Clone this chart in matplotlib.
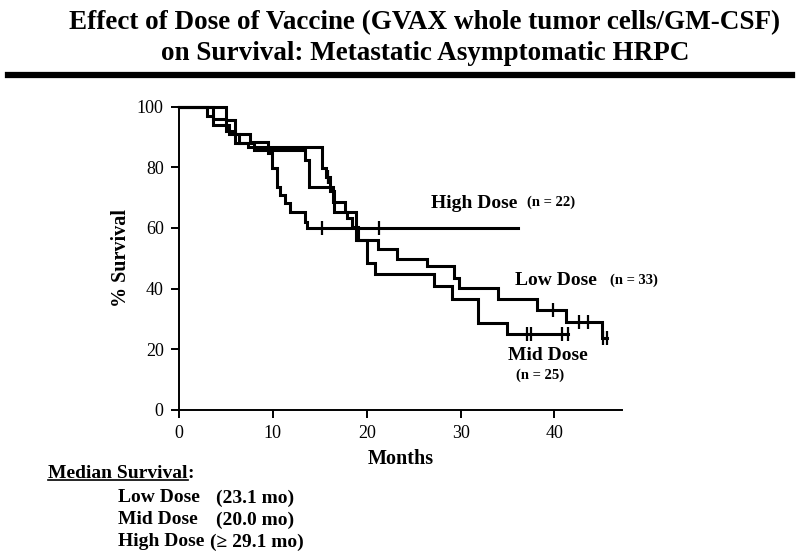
import matplotlib
matplotlib.use("Agg")
import matplotlib.pyplot as plt
from matplotlib.lines import Line2D

# Kaplan-Meier steps: month of each drop, % surviving after it
low_t = [0, 3.0, 3.6, 5.3, 6.4, 8.0, 13.4, 13.8, 16.4, 17.7, 18.9, 21.2, 23.2, 26.4, 29.3, 29.8, 34.0, 38.1, 41.2, 45.1]
low_s = [100, 97.0, 93.9, 90.9, 87.9, 85.7, 82.4, 73.6, 68.6, 65.3, 56.0, 53.0, 49.8, 47.3, 43.6, 40.2, 36.6, 33.0, 28.9, 23.6]
low_end = 45.6
low_cens_t = [39.8, 42.6, 43.6, 45.15, 45.6]
low_cens_s = [33.0, 28.9, 28.9, 23.6, 23.6]

mid_t = [0, 3.6, 5.0, 6.0, 7.3, 15.2, 15.7, 16.1, 16.5, 17.9, 18.4, 19.1, 20.0, 20.9, 27.2, 29.1, 31.9, 34.9]
mid_s = [100, 96.0, 92.0, 88.0, 86.8, 79.6, 76.9, 72.0, 65.3, 63.2, 60.4, 56.0, 48.3, 44.8, 41.0, 36.6, 28.6, 25.0]
mid_end = 41.4
mid_cens_t = [15.9, 37.1, 37.5, 40.8, 41.4]
mid_cens_s = [76.9, 25.0, 25.0, 25.0, 25.0]

high_t = [0, 5.0, 6.0, 7.6, 9.5, 9.9, 10.4, 10.8, 11.3, 11.8, 13.4, 13.6]
high_s = [100, 95.5, 90.9, 88.4, 84.6, 79.6, 73.6, 70.8, 68.1, 65.3, 62.0, 60.0]
high_end = 36.1
high_cens_t = [15.2, 21.3]
high_cens_s = [60.0, 60.0]

x_ticks = [0, 10, 20, 30, 40]
y_ticks = [0, 20, 40, 60, 80, 100]

median_rows = [("Low Dose", "(23.1 mo)"), ("Mid Dose", "(20.0 mo)"), ("High Dose", "(\u2265 29.1 mo)")]

SERIF = ["Liberation Serif", "DejaVu Serif"]
plt.rcParams["font.family"] = SERIF

fig = plt.figure(figsize=(8, 5.58), dpi=100)
ax = fig.add_axes([179 / 800, 1 - 410 / 558, (622 - 179) / 800, (410 - 106.5) / 558])

# Title and the heavy rule under it
fig.text(0.531, 1 - 23 / 558, "Effect of Dose of Vaccine (GVAX whole tumor cells/GM-CSF)",
         ha="center", va="center", fontsize=19.5, fontweight="bold")
fig.text(0.531, 1 - 53 / 558, "on Survival: Metastatic Asymptomatic HRPC",
         ha="center", va="center", fontsize=19.5, fontweight="bold")
fig.add_artist(Line2D([8 / 800, 792 / 800], [1 - 75 / 558, 1 - 75 / 558], color="black", lw=4.5))

# Survival curves
for t, s, end in [(low_t, low_s, low_end), (mid_t, mid_s, mid_end), (high_t, high_s, high_end)]:
    ax.plot(t + [end], s + [s[-1]], drawstyle="steps-post", color="black", lw=2.2,
            clip_on=False, solid_joinstyle="miter")
for ct, cs in [(low_cens_t, low_cens_s), (mid_cens_t, mid_cens_s), (high_cens_t, high_cens_s)]:
    ax.plot(ct, cs, ls="none", marker="|", ms=10, mew=1.6, color="black", clip_on=False)

ax.set_xlim(0, 47.2)
ax.set_ylim(0, 100)
ax.set_xticks(x_ticks)
ax.set_yticks(y_ticks)
ax.spines["top"].set_visible(False)
ax.spines["right"].set_visible(False)
ax.spines["left"].set_linewidth(1.4)
ax.spines["bottom"].set_linewidth(1.4)
ax.tick_params(direction="out", length=6, width=1.4, labelsize=13, pad=5)
ax.set_xlabel("Months", fontsize=14.5, fontweight="bold", labelpad=5)
ax.set_ylabel("% Survival", fontsize=14.5, fontweight="bold", labelpad=4)

# Curve labels
ax.text(26.8, 68.2, "High Dose", fontsize=14, fontweight="bold", va="center")
ax.text(37.1, 68.6, "(n = 22)", fontsize=10.5, fontweight="bold", va="center")
ax.text(35.8, 42.6, "Low Dose", fontsize=14, fontweight="bold", va="center")
ax.text(45.9, 42.9, "(n = 33)", fontsize=10.5, fontweight="bold", va="center")
ax.text(35.1, 18.0, "Mid Dose", fontsize=14, fontweight="bold", va="center")
ax.text(35.9, 11.4, "(n = 25)", fontsize=10.5, fontweight="bold", va="center")

# Median survival summary below the chart
ms = fig.text(48 / 800, 1 - 474 / 558, "Median Survival", fontsize=14, fontweight="bold", va="center")
fig.canvas.draw()
bb = ms.get_window_extent().transformed(fig.transFigure.inverted())
fig.text(bb.x1, 1 - 474 / 558, ":", fontsize=14, fontweight="bold", va="center")
fig.add_artist(Line2D([bb.x0, bb.x1], [bb.y0 + 0.004, bb.y0 + 0.004], color="black", lw=1.2))

row_y = [498, 520, 542]
val_x = [216, 216, 210]
for (name, val), y, vx in zip(median_rows, row_y, val_x):
    fig.text(118 / 800, 1 - y / 558, name, fontsize=14, fontweight="bold", va="center")
    fig.text(vx / 800, 1 - y / 558, val, fontsize=14, fontweight="bold", va="center")

fig.savefig("out.png", dpi=100)
